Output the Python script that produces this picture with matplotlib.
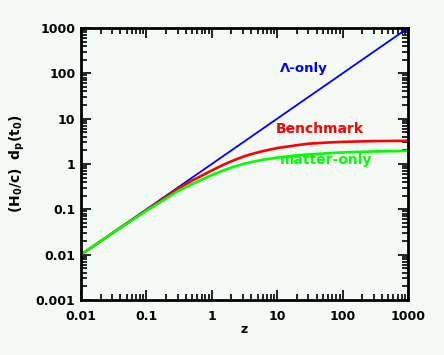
import matplotlib
matplotlib.use("Agg")
from matplotlib import pyplot as plt

# redshift samples
z = [0.01, 0.03, 0.1, 0.3, 0.5, 1, 1.5, 2, 3, 4, 6, 10, 20, 30, 60, 100, 300, 1000]

# (H0/c) d_p(t0)
lambda_only = [0.01, 0.03, 0.1, 0.3, 0.5, 1, 1.5, 2, 3, 4, 6, 10, 20, 30, 60, 100, 300, 1000]
benchmark = [0.01, 0.0297, 0.096, 0.28, 0.43, 0.72, 0.96, 1.15, 1.45, 1.65, 1.92, 2.25, 2.6, 2.8, 2.98, 3.08, 3.2, 3.25]
matter_only = [0.01, 0.0296, 0.093, 0.25, 0.36, 0.57, 0.72, 0.84, 1.0, 1.1, 1.24, 1.38, 1.55, 1.62, 1.73, 1.8, 1.89, 1.95]

x_ticks = [0.01, 0.1, 1, 10, 100, 1000]
x_labels = ["0.01", "0.1", "1", "10", "100", "1000"]
y_ticks = [0.001, 0.01, 0.1, 1, 10, 100, 1000]
y_labels = ["0.001", "0.01", "0.1", "1", "10", "100", "1000"]

bg = "#f5faf6"
fig = plt.figure(figsize=(4.44, 3.55), dpi=100, facecolor=bg)
ax = fig.add_axes([81 / 444, 55 / 355, 327 / 444, 272 / 355], facecolor=bg)

ax.plot(z, lambda_only, color="#0000ff", lw=1.3)
ax.plot(z, benchmark, color="#ff0000", lw=1.9)
ax.plot(z, matter_only, color="#00ff00", lw=1.9)

ax.set_xscale("log")
ax.set_yscale("log")
ax.set_xlim(0.01, 1000)
ax.set_ylim(0.001, 1000)

ax.set_xticks(x_ticks)
ax.set_xticklabels(x_labels, fontsize=9, fontweight="bold")
ax.set_yticks(y_ticks)
ax.set_yticklabels(y_labels, fontsize=9, fontweight="bold")
ax.tick_params(which="both", direction="in", top=True, right=True, width=1.2)
ax.tick_params(which="major", length=7)
ax.tick_params(which="minor", length=4)
ax.tick_params(axis="x", which="major", pad=7)
ax.tick_params(axis="y", which="major", pad=4)
for s in ax.spines.values():
    s.set_linewidth(2)

ax.set_xlabel("z", fontsize=9, fontweight="bold", labelpad=0)
ax.set_ylabel(r"$\mathbf{(H_0/c)\ \ d_p(t_0)}$", fontsize=10, labelpad=6)

ax.text(25.7, 125, "Λ-only", color="#0000ff", fontsize=9.5, fontweight="bold", ha="center", va="center")
ax.text(45, 5.9, "Benchmark", color="#ff0000", fontsize=10, fontweight="bold", ha="center", va="center")
ax.text(56, 1.23, "matter-only", color="#00ff00", fontsize=10, fontweight="bold", ha="center", va="center")

fig.savefig("out.png", dpi=100, facecolor=bg)
